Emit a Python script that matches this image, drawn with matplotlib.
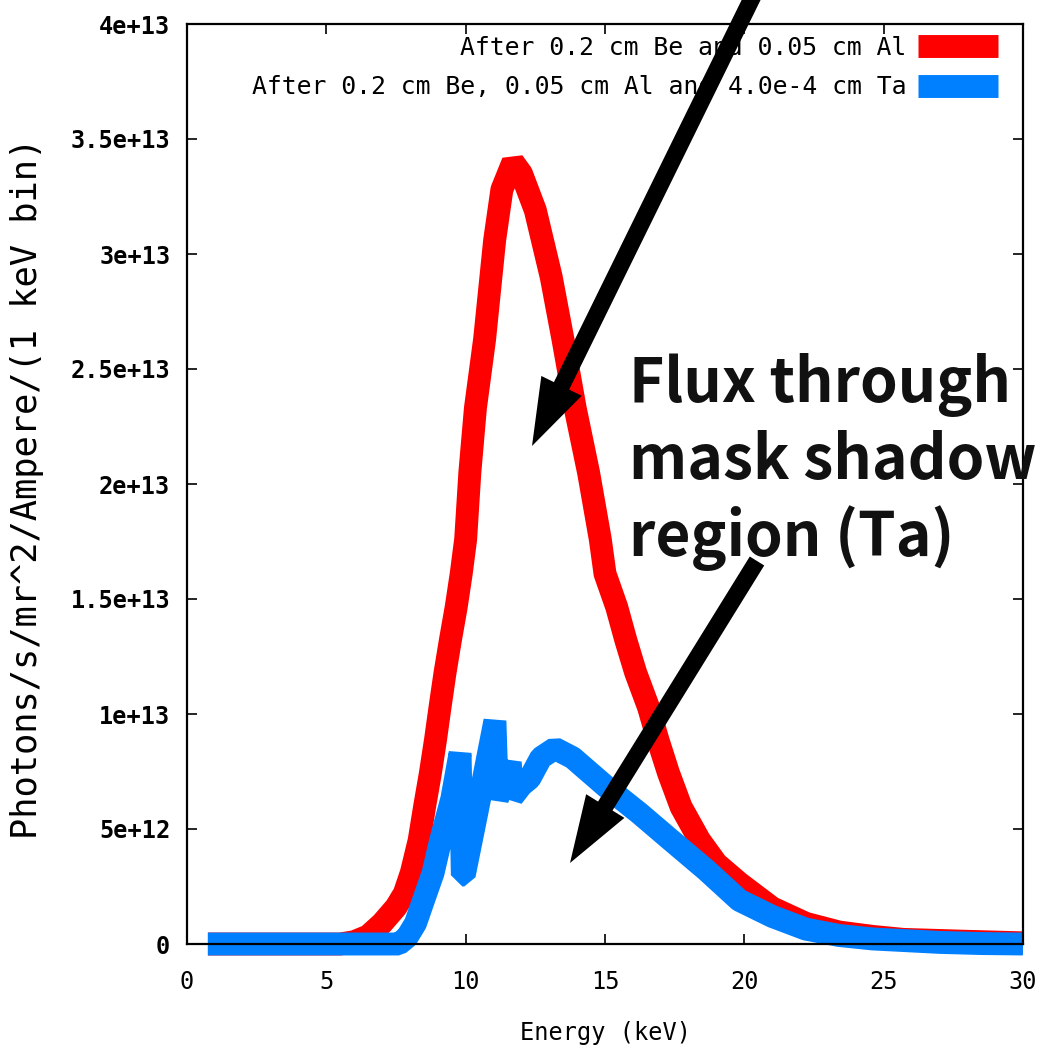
import numpy as np
import matplotlib
matplotlib.use("Agg")
import matplotlib.pyplot as plt
from matplotlib.patches import Polygon
from matplotlib.ticker import FixedLocator, FixedFormatter

# ---------------- data (keV, photons in units of 1e12) ----------------
energy_al = [0.75, 5.5, 6.0, 6.5, 7.0, 7.5, 7.8, 8.05, 8.33, 8.53, 8.73, 8.92, 9.08,
             9.26, 9.45, 9.66, 9.84, 10.0, 10.15, 10.35, 10.68, 11.04, 11.3, 11.7,
             12.0, 12.5, 13.07, 13.49, 13.93, 14.41, 14.83, 15.0, 15.42, 15.75, 16.1,
             16.56, 16.9, 17.28, 17.73, 18.39, 19.0, 19.82, 21.0, 22.2, 23.4, 24.6,
             25.7, 27.9, 30.0]
flux_al = [0, 0, 0.1, 0.35, 0.9, 1.6, 2.2, 3.1, 4.5, 6.0, 7.4, 8.9, 10.3,
           11.8, 13.2, 14.65, 16.1, 17.6, 20.5, 23.3, 26.3, 30.6, 32.8, 34.0,
           33.5, 31.9, 29.0, 26.3, 23.3, 20.5, 17.6, 16.1, 14.65, 13.2, 11.8,
           10.3, 8.87, 7.43, 5.96, 4.52, 3.5, 2.65, 1.57, 0.9, 0.52, 0.33,
           0.2, 0.12, 0.05]

energy_ta = [0.75, 7.6, 7.9, 8.2, 8.4, 8.83, 9.1, 9.5, 9.8, 9.88, 9.95, 10.4, 11.05,
             11.14, 11.6, 11.68, 12.0, 12.3, 12.7, 13.2, 13.84, 15.04, 16.24, 17.43,
             18.63, 19.82, 21.0, 22.2, 23.4, 24.6, 27.0, 28.5, 30.0]
flux_ta = [0, 0, 0.3, 0.9, 1.6, 3.09, 4.5, 6.3, 8.3, 3.0, 3.0, 5.7, 9.7,
           6.3, 7.9, 6.4, 6.9, 7.2, 8.1, 8.5, 8.1, 6.84, 5.68, 4.45,
           3.22, 1.9, 1.2, 0.65, 0.37, 0.22, 0.07, 0.02, 0.0]

label_al = "After 0.2 cm Be and 0.05 cm Al"
label_ta = "After 0.2 cm Be, 0.05 cm Al and 4.0e-4 cm Ta"

x_ticks = [0, 5, 10, 15, 20, 25, 30]
x_tick_labels = ["0", "5", "10", "15", "20", "25", "30"]
y_ticks = [0, 5e12, 1e13, 1.5e13, 2e13, 2.5e13, 3e13, 3.5e13, 4e13]
y_tick_labels = ["0", "5e+12", "1e+13", "1.5e+13", "2e+13", "2.5e+13",
                 "3e+13", "3.5e+13", "4e+13"]

annotation_lines = ["Flux through", "mask shadow", "region (Ta)"]

# ---------------- figure ----------------
W, H = 1043, 1050
fig = plt.figure(figsize=(W / 100, H / 100), dpi=100)
L, R, T, B = 187, 1023, 24, 944
ax = fig.add_axes([L / W, 1 - B / H, (R - L) / W, (B - T) / H])

SCALE = 1e12
lw = 16.5
ax.plot(np.array(energy_al), np.array(flux_al) * SCALE, color="#ff0000", lw=lw,
        solid_capstyle="butt", solid_joinstyle="bevel", label=label_al,
        clip_on=False, zorder=2)
ax.plot(np.array(energy_ta), np.array(flux_ta) * SCALE, color="#0080ff", lw=lw,
        solid_capstyle="butt", solid_joinstyle="bevel", label=label_ta,
        clip_on=False, zorder=3)

ax.set_xlim(0, 30)
ax.set_ylim(0, 4e13)

mono = "DejaVu Sans Mono"
ax.xaxis.set_major_locator(FixedLocator(x_ticks))
ax.xaxis.set_major_formatter(FixedFormatter(x_tick_labels))
ax.yaxis.set_major_locator(FixedLocator(y_ticks))
ax.yaxis.set_major_formatter(FixedFormatter(y_tick_labels))
ax.tick_params(axis="both", direction="in", length=7, width=1.2, top=True,
               right=True, color="black")
ax.tick_params(axis="x", pad=19, labelsize=17)
ax.tick_params(axis="y", pad=12, labelsize=17)
for t in ax.get_xticklabels():
    t.set_fontfamily(mono)
for t in ax.get_yticklabels():
    t.set_fontfamily(mono)
    t.set_fontweight("bold")
for s in ax.spines.values():
    s.set_linewidth(1.6)
    s.set_zorder(4)

ax.set_xlabel("Energy (keV)", fontfamily=mono, fontsize=17, va="center")
ax.xaxis.set_label_coords((605 - L) / (R - L), (B - 1033) / (B - T))
ax.set_ylabel("Photons/s/mr^2/Ampere/(1 keV bin)", fontfamily=mono,
              fontsize=25.5, va="center", ha="center")
ax.yaxis.set_label_coords((27 - L) / (R - L), (B - 488) / (B - T))

leg = ax.legend(loc="upper right", bbox_to_anchor=((998 - L) / (R - L), (B - 36) / (B - T)),
                frameon=False, markerfirst=False, prop={"family": mono, "size": 17.8},
                handlelength=3.25, handletextpad=0.45, labelspacing=0.62,
                borderpad=0, borderaxespad=0)
leg.set_zorder(5)


def px(x, y):
    return (x / W, 1 - y / H)


def arrow(tail, tip, shaft_w=17, head_w=45, head_len=67):
    tail = np.array(tail, float)
    tip = np.array(tip, float)
    d = tip - tail
    d /= np.hypot(*d)
    n = np.array([-d[1], d[0]])
    base = tip - d * head_len
    pts = [tail + n * shaft_w / 2, base + n * shaft_w / 2, base + n * head_w / 2,
           tip, base - n * head_w / 2, base - n * shaft_w / 2, tail - n * shaft_w / 2]
    poly = Polygon([px(*p) for p in pts], closed=True, transform=fig.transFigure,
                   facecolor="black", edgecolor="none", zorder=10)
    fig.add_artist(poly)


arrow((757, -12), (532, 446))
arrow((757, 561), (570, 863))

for i, line in enumerate(annotation_lines):
    fig.text(*px(629, 402 + 77 * i), line, fontsize=43.5,
             family=["Noto Sans CJK JP", "DejaVu Sans"], weight="bold",
             color="#111111", ha="left", va="baseline", zorder=11)

fig.savefig("out.png", dpi=100)
